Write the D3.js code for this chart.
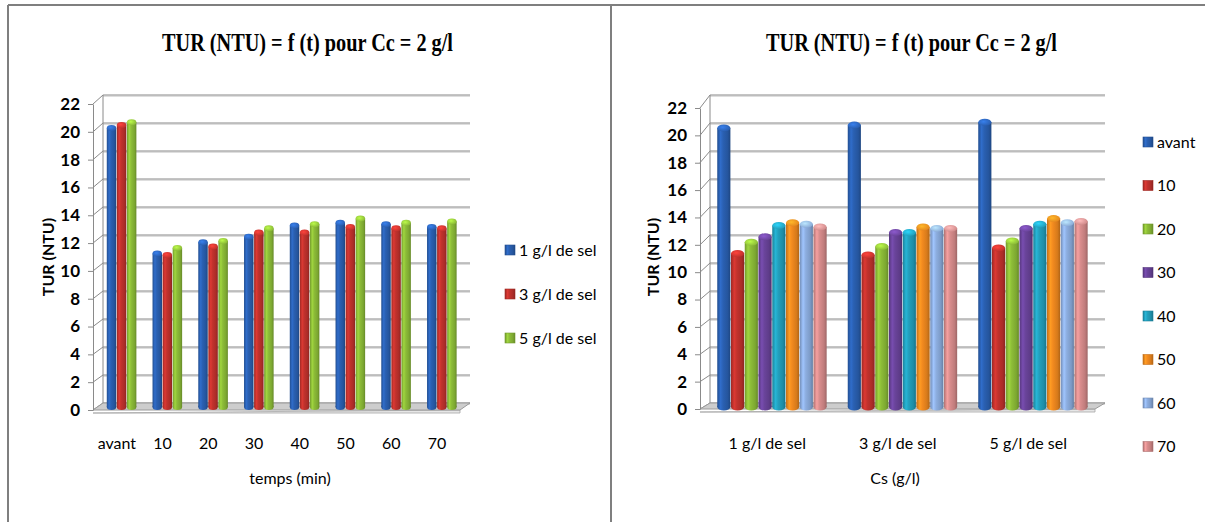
<!DOCTYPE html>
<html>
<head>
<meta charset="utf-8">
<script src="https://cdn.jsdelivr.net/npm/d3@7"></script>
<style>
  html, body { margin: 0; padding: 0; background: #fff; }
  svg { display: block; }
</style>
</head>
<body>
<svg id="chart" width="1205" height="522"></svg>
<script>
// Turbidity (NTU) over time, coagulant dose Cc = 2 g/l, for three salt concentrations
const timeLabels = ["avant", "10", "20", "30", "40", "50", "60", "70"];
const saltLabels = ["1 g/l de sel", "3 g/l de sel", "5 g/l de sel"];
const sel1 = [20.0, 11.0, 11.8, 12.2, 13.0, 13.2, 13.1, 12.9];
const sel3 = [20.2, 10.9, 11.5, 12.5, 12.5, 12.9, 12.8, 12.8];
const sel5 = [20.4, 11.4, 11.9, 12.8, 13.1, 13.5, 13.2, 13.3];
const yTicks = [0, 2, 4, 6, 8, 10, 12, 14, 16, 18, 20, 22];
const titleText = "TUR (NTU) = f (t) pour Cc = 2 g/l";
const yTitle = "TUR (NTU)";
const xTitleLeft = "temps (min)";
const xTitleRight = "Cs (g/l)";

const saltColors = ["#2a60b2", "#c2322d", "#8dbd38"];
const timeColors = ["#2a60b2", "#c2322d", "#8dbd38", "#6a449b", "#22a0bd", "#f28a1f", "#8daee0", "#d98d8d"];

const bySalt = [sel1, sel3, sel5];
// left: series = salt, categories = time
const leftValues = bySalt;
// right: series = time, categories = salt
const rightValues = timeLabels.map((_, i) => bySalt.map(s => s[i]));

const svg = d3.select("#chart");
const defs = svg.append("defs");
const sansFont = "Lato, 'Open Sans', sans-serif";

// Cylinder shading for each colour
function gradId(color) { return "g" + color.slice(1); }
function capId(color) { return "c" + color.slice(1); }
function ensureGradient(color) {
  if (!defs.select("#" + gradId(color)).empty()) return;
  const c = d3.color(color);
  const g = defs.append("linearGradient").attr("id", gradId(color))
    .attr("x1", "0").attr("x2", "1").attr("y1", "0").attr("y2", "0");
  g.append("stop").attr("offset", "0%").attr("stop-color", c.darker(0.6));
  g.append("stop").attr("offset", "25%").attr("stop-color", c.brighter(0.35));
  g.append("stop").attr("offset", "45%").attr("stop-color", c);
  g.append("stop").attr("offset", "80%").attr("stop-color", c.darker(0.35));
  g.append("stop").attr("offset", "100%").attr("stop-color", c.darker(0.9));
  const r = defs.append("radialGradient").attr("id", capId(color))
    .attr("cx", "40%").attr("cy", "40%").attr("r", "70%");
  r.append("stop").attr("offset", "0%").attr("stop-color", c.brighter(0.8));
  r.append("stop").attr("offset", "100%").attr("stop-color", c.darker(0.2));
}
[...new Set([...saltColors, ...timeColors])].forEach(ensureGradient);

// Panel frame
const frame = svg.append("g").attr("fill", "none").attr("stroke", "#7f7f7f").attr("stroke-width", 2);
frame.append("line").attr("x1", 8).attr("x2", 1205).attr("y1", 5).attr("y2", 5);
frame.append("line").attr("x1", 8).attr("x2", 8).attr("y1", 5).attr("y2", 522);
frame.append("line").attr("x1", 611).attr("x2", 611).attr("y1", 5).attr("y2", 522);

function drawPanel(cfg) {
  const g = svg.append("g");
  const yBack = d3.scaleLinear().domain([0, 22]).range([403, 95]);
  const yFront = d3.scaleLinear().domain([0, 22]).range(cfg.frontRange);
  const yBar = d3.scaleLinear().domain([0, 22]).range([407, 100]);
  const wallL = cfg.wallL, wallR = cfg.wallR, frontX = cfg.wallL - 10;

  // title
  g.append("text")
    .attr("x", cfg.titleX - 146).attr("y", 51)
    .attr("textLength", 291).attr("lengthAdjust", "spacingAndGlyphs")
    .attr("font-family", "'Liberation Serif', 'Times New Roman', serif")
    .attr("font-weight", "bold").attr("font-size", 26)
    .text(titleText);

  // back wall and side wall gridlines
  const grid = g.append("g");
  yTicks.forEach(v => {
    grid.append("line").attr("x1", wallL).attr("x2", wallR)
      .attr("y1", yBack(v) + 1.2).attr("y2", yBack(v) + 1.2)
      .attr("stroke", "#cfcfcf").attr("stroke-width", 1);
    grid.append("line").attr("x1", wallL).attr("x2", wallR)
      .attr("y1", yBack(v)).attr("y2", yBack(v))
      .attr("stroke", "#8a8a8a").attr("stroke-width", 1.2);
    grid.append("line").attr("x1", frontX).attr("x2", wallL)
      .attr("y1", yFront(v)).attr("y2", yBack(v))
      .attr("stroke", "#8a8a8a").attr("stroke-width", 1);
  });
  grid.append("line").attr("x1", wallL).attr("x2", wallL)
    .attr("y1", yBack(0)).attr("y2", yBack(22))
    .attr("stroke", "#8a8a8a").attr("stroke-width", 1);

  // floor
  const floorFront = yFront(0);
  g.append("polygon")
    .attr("points", [[frontX, floorFront + 3], [wallR - 10, floorFront + 3], [wallR - 10, floorFront]].map(p => p.join(",")).join(" "))
    .attr("fill", "#e6e6e6").attr("stroke", "#a6a6a6").attr("stroke-width", 0.8);
  g.append("polygon")
    .attr("points", [[wallL, yBack(0)], [wallR, yBack(0)], [wallR - 10, floorFront], [frontX, floorFront]].map(p => p.join(",")).join(" "))
    .attr("fill", "#cdcdcd").attr("stroke", "#9a9a9a").attr("stroke-width", 1);

  // y axis on the front edge
  const axis = d3.axisLeft(yFront).tickValues(yTicks).tickSize(5).tickPadding(8).tickSizeOuter(0);
  const ax = g.append("g").attr("transform", `translate(${frontX},0)`).call(axis);
  ax.select(".domain").attr("stroke", "#8a8a8a");
  ax.selectAll(".tick line").attr("stroke", "#8a8a8a");
  ax.selectAll(".tick text")
    .attr("font-family", sansFont).attr("font-weight", "bold").attr("font-size", 17)
    .attr("fill", "#000");

  // bars
  const x0 = d3.scaleBand().domain(cfg.categories).range(cfg.bandRange)
    .paddingInner(cfg.padInner).paddingOuter(cfg.padInner / 2);
  const x1 = d3.scaleBand().domain(d3.range(cfg.series.length)).range([0, x0.bandwidth()]);
  const w = x1.bandwidth();
  const bars = g.append("g");
  cfg.series.forEach((name, si) => {
    const color = cfg.colors[si];
    cfg.categories.forEach((cat, ci) => {
      const v = cfg.values[si][ci];
      const bx = x0(cat) + x1(si);
      const top = yBar(v);
      const bottom = yBar(0);
      const ry = Math.min(3.5, w * 0.3);
      bars.append("rect").attr("x", bx).attr("y", top).attr("width", w - 0.6)
        .attr("height", bottom - top).attr("fill", `url(#${gradId(color)})`);
      bars.append("ellipse").attr("cx", bx + (w - 0.6) / 2).attr("cy", bottom)
        .attr("rx", (w - 0.6) / 2).attr("ry", ry).attr("fill", `url(#${gradId(color)})`);
      bars.append("ellipse").attr("cx", bx + (w - 0.6) / 2).attr("cy", top)
        .attr("rx", (w - 0.6) / 2).attr("ry", ry).attr("fill", `url(#${capId(color)})`);
    });
  });

  // category labels
  g.append("g").selectAll("text").data(cfg.categories).join("text")
    .attr("x", d => x0(d) + x0.bandwidth() / 2 - 5).attr("y", 449)
    .attr("text-anchor", "middle")
    .attr("font-family", sansFont).attr("font-size", 16)
    .text(d => d);

  // axis titles
  g.append("text")
    .attr("transform", `translate(${cfg.yTitleX},257) rotate(-90)`)
    .attr("text-anchor", "middle")
    .attr("font-family", sansFont).attr("font-weight", "bold").attr("font-size", 16)
    .text(yTitle);
  g.append("text")
    .attr("x", cfg.xTitleX).attr("y", 484).attr("text-anchor", "middle")
    .attr("font-family", sansFont).attr("font-size", 16)
    .text(cfg.xTitle);

  // legend
  const lg = g.append("g");
  cfg.series.forEach((name, si) => {
    const cy = cfg.legendY0 + si * cfg.legendStep;
    const color = cfg.colors[si];
    lg.append("rect").attr("x", cfg.legendX).attr("y", cy - 5).attr("width", 10).attr("height", 10)
      .attr("fill", `url(#${gradId(color)})`).attr("stroke", d3.color(color).darker(0.6)).attr("stroke-width", 0.6);
    lg.append("text").attr("x", cfg.legendX + 14).attr("y", cy + 5.5)
      .attr("font-family", sansFont).attr("font-size", 16)
      .text(name);
  });
}

drawPanel({
  categories: timeLabels, series: saltLabels, values: leftValues, colors: saltColors,
  wallL: 103, wallR: 470, frontRange: [410, 104],
  bandRange: [99, 465], padInner: 0.34,
  titleX: 308, yTitleX: 54, xTitleX: 290, xTitle: xTitleLeft,
  legendX: 505, legendY0: 250, legendStep: 44
});

drawPanel({
  categories: saltLabels, series: timeLabels, values: rightValues, colors: timeColors,
  wallL: 710, wallR: 1105, frontRange: [409, 108],
  bandRange: [707, 1098.5], padInner: 0.157,
  titleX: 912, yTitleX: 659, xTitleX: 895, xTitle: xTitleRight,
  legendX: 1143, legendY0: 142, legendStep: 43.5
});
</script>
</body>
</html>
